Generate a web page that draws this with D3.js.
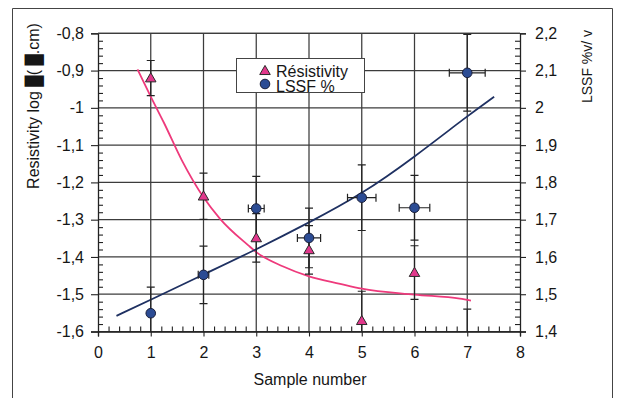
<!DOCTYPE html>
<html><head><meta charset="utf-8">
<script src="https://cdn.jsdelivr.net/npm/d3@7"></script>
<style>body{margin:0;background:#fff}svg{display:block;font-family:"Liberation Sans",Arial,sans-serif}</style>
</head><body><svg id="c" width="622" height="398"></svg>
<script>
// ---- data ----
const samples = [1, 2, 3, 4, 5, 6, 7];
const resistivity = [-0.92, -1.237, -1.349, -1.381, -1.571, -1.442, -1.64];
const resistivityErr = [0.047, 0.062, 0.065, 0.065, 0.079, 0.072, 0.10];
const lssf = [1.449, 1.552, 1.730, 1.651, 1.759, 1.732, 2.094];
const lssfErr = [0.07, 0.077, 0.086, 0.08, 0.088, 0.087, 0.103];
const lssfXErr = [0, 0.1, 0.15, 0.22, 0.27, 0.29, 0.34];
const resFitX = [0.75, 1.0, 1.25, 1.59, 2.0, 2.31, 2.85, 3.0, 3.5, 4.0, 4.59, 5.0, 6.0, 6.86, 7.07];
const resFitY = [-0.897, -0.97, -1.04, -1.141, -1.24, -1.297, -1.369, -1.387, -1.425, -1.452, -1.472, -1.485, -1.501, -1.512, -1.517];
const lssfFitX = [0.35, 1.0, 2.0, 3.0, 4.0, 5.0, 6.0, 7.0, 7.51];
const lssfFitY = [1.442, 1.485, 1.553, 1.620, 1.692, 1.768, 1.868, 1.978, 2.03];
const xTicks = [0, 1, 2, 3, 4, 5, 6, 7, 8];
const leftTicks = [-0.8, -0.9, -1.0, -1.1, -1.2, -1.3, -1.4, -1.5, -1.6];
const rightTicks = [2.2, 2.1, 2.0, 1.9, 1.8, 1.7, 1.6, 1.5, 1.4];
const legendLabels = ["Résistivity", "LSSF %"];
const xTitle = "Sample number";
const yLeftTitle = "Resistivity log \u2588( \u2588.cm)";
const yRightTitle = "LSSF %v/ v";

// ---- setup ----
const svg = d3.select("#c");
const L = 98, R = 520, T = 33.3, B = 331.5;
const x = d3.scaleLinear().domain([0, 8]).range([L, R]);
const yL = d3.scaleLinear().domain([-1.6, -0.8]).range([B, T]);
const yR = d3.scaleLinear().domain([1.4, 2.2]).range([B, T]);
const loc = d3.formatLocale({decimal: ",", thousands: " ", grouping: [3], currency: ["", ""], minus: "-"});
const fmt = loc.format("~g");
const pink = "#ee3a7c", navy = "#1f3162", grid = "#3c3c3c", ink = "#161616";

// frame
svg.append("path").attr("d", "M12.5,398 V8.5 H612.5 V398").attr("fill", "none").attr("stroke", "#444").attr("stroke-width", 1);

// gridlines
const g = svg.append("g");
g.selectAll(".h").data(leftTicks).join("line")
  .attr("x1", L).attr("x2", R).attr("y1", d => yL(d)).attr("y2", d => yL(d))
  .attr("stroke", grid).attr("stroke-width", 1.25);
g.selectAll(".v").data(xTicks.slice(1, -1)).join("line")
  .attr("x1", d => x(d)).attr("x2", d => x(d)).attr("y1", T).attr("y2", B)
  .attr("stroke", grid).attr("stroke-width", 1.25);

// minor ticks
const minor = (lo, hi, step, sub) => d3.range(Math.round((hi - lo) / (step / sub)) + 1).map(i => lo + i * step / sub).filter((v, i) => i % sub !== 0);
const axL = svg.append("g").attr("transform", `translate(${L},0)`);
axL.call(d3.axisLeft(yL).tickValues(minor(-1.6, -0.8, 0.1, 5)).tickSize(-5).tickFormat(""));
axL.call(g2 => g2.select(".domain").remove());
const axLm = svg.append("g").attr("transform", `translate(${L},0)`)
  .call(d3.axisLeft(yL).tickValues(leftTicks).tickSize(7).tickPadding(7).tickFormat(fmt));
const axR = svg.append("g").attr("transform", `translate(${R},0)`);
axR.call(d3.axisRight(yR).tickValues(minor(1.4, 2.2, 0.1, 5)).tickSize(-5).tickFormat(""));
axR.call(g2 => g2.select(".domain").remove());
const axRm = svg.append("g").attr("transform", `translate(${R},0)`)
  .call(d3.axisRight(yR).tickValues(rightTicks).tickSize(6).tickPadding(9).tickFormat(fmt));
const axB = svg.append("g").attr("transform", `translate(0,${B})`);
axB.call(d3.axisBottom(x).tickValues(minor(0, 8, 1, 5)).tickSize(-5).tickFormat(""));
axB.call(g2 => g2.select(".domain").remove());
const axBm = svg.append("g").attr("transform", `translate(0,${B})`)
  .call(d3.axisBottom(x).tickValues(xTicks).tickSize(5).tickPadding(10).tickFormat(fmt));
// top line
svg.append("line").attr("x1", L).attr("x2", R).attr("y1", T).attr("y2", T).attr("stroke", grid).attr("stroke-width", 1.25);

svg.selectAll(".tick line").attr("stroke", "#222").attr("stroke-width", 1.1);
svg.selectAll(".domain").attr("stroke", "#222").attr("stroke-width", 1.3);
svg.selectAll(".tick text").attr("font-size", 16).attr("fill", ink).attr("font-family", "Liberation Sans, Arial, sans-serif");
axBm.selectAll(".tick text").attr("dy", "0.71em");

// titles
svg.append("text").attr("x", (L + R) / 2 + 1).attr("y", 385).attr("text-anchor", "middle")
  .attr("font-size", 16).attr("fill", ink).text(xTitle);
svg.append("text").attr("transform", "translate(39,106) rotate(-90)").attr("text-anchor", "middle")
  .attr("font-size", 16).attr("fill", ink).text(yLeftTitle);
svg.append("text").attr("transform", "translate(592,66.5) rotate(-90)").attr("text-anchor", "middle")
  .attr("font-size", 14).attr("fill", ink).text(yRightTitle);

// plot clip
svg.append("clipPath").attr("id", "clip").append("rect").attr("x", L).attr("y", T).attr("width", R - L).attr("height", B - T);
const p = svg.append("g").attr("clip-path", "url(#clip)");

// fitted curves
p.append("path").datum(resFitX.map((v, i) => [v, resFitY[i]]))
  .attr("d", d3.line().x(d => x(d[0])).y(d => yL(d[1])).curve(d3.curveMonotoneX))
  .attr("fill", "none").attr("stroke", pink).attr("stroke-width", 1.8);
p.append("path").datum(lssfFitX.map((v, i) => [v, lssfFitY[i]]))
  .attr("d", d3.line().x(d => x(d[0])).y(d => yR(d[1])).curve(d3.curveBasis))
  .attr("fill", "none").attr("stroke", navy).attr("stroke-width", 1.8);

// error bars
const eb = p.append("g").attr("stroke", "#222").attr("stroke-width", 1.2);
const cap = 4;
samples.forEach((s, i) => {
  const cx = x(s);
  const r1 = yL(resistivity[i] + resistivityErr[i]), r2 = yL(resistivity[i] - resistivityErr[i]);
  eb.append("line").attr("x1", cx).attr("x2", cx).attr("y1", r1).attr("y2", r2);
  eb.append("line").attr("x1", cx - cap).attr("x2", cx + cap).attr("y1", r1).attr("y2", r1);
  eb.append("line").attr("x1", cx - cap).attr("x2", cx + cap).attr("y1", r2).attr("y2", r2);
  const l1 = yR(lssf[i] + lssfErr[i]), l2 = yR(lssf[i] - lssfErr[i]);
  eb.append("line").attr("x1", cx).attr("x2", cx).attr("y1", l1).attr("y2", l2);
  eb.append("line").attr("x1", cx - cap).attr("x2", cx + cap).attr("y1", l1).attr("y2", l1);
  eb.append("line").attr("x1", cx - cap).attr("x2", cx + cap).attr("y1", l2).attr("y2", l2);
  if (lssfXErr[i] > 0) {
    const cy = yR(lssf[i]), a = x(s - lssfXErr[i]), b = x(s + lssfXErr[i]);
    eb.append("line").attr("x1", a).attr("x2", b).attr("y1", cy).attr("y2", cy);
    eb.append("line").attr("x1", a).attr("x2", a).attr("y1", cy - cap).attr("y2", cy + cap);
    eb.append("line").attr("x1", b).attr("x2", b).attr("y1", cy - cap).attr("y2", cy + cap);
  }
});

// markers
const tri = d3.symbol().type(d3.symbolTriangle).size(48);
p.selectAll(".tri").data(samples.map((s, i) => [s, resistivity[i]])).join("path")
  .attr("transform", d => `translate(${x(d[0])},${yL(d[1]) + 0.8})`).attr("d", tri)
  .attr("fill", "#e2388c").attr("stroke", "#2a2a2a").attr("stroke-width", 1);
p.selectAll(".cir").data(samples.map((s, i) => [s, lssf[i]])).join("circle")
  .attr("cx", d => x(d[0])).attr("cy", d => yR(d[1])).attr("r", 4.8)
  .attr("fill", "#2c4c94").attr("stroke", "#1a1f3a").attr("stroke-width", 1);

// legend
const lg = svg.append("g");
lg.append("rect").attr("x", 236.5).attr("y", 58.5).attr("width", 128).attr("height", 34)
  .attr("fill", "#fff").attr("stroke", "#444").attr("stroke-width", 1);
lg.append("path").attr("transform", "translate(265,71.5)").attr("d", tri)
  .attr("fill", "#e2388c").attr("stroke", "#2a2a2a").attr("stroke-width", 1);
lg.append("circle").attr("cx", 265).attr("cy", 84).attr("r", 4.8)
  .attr("fill", "#2c4c94").attr("stroke", "#1a1f3a").attr("stroke-width", 1);
lg.selectAll(".lt").data(legendLabels).join("text")
  .attr("x", 276).attr("y", (d, i) => 76.5 + i * 15.5)
  .attr("font-size", 16).attr("fill", ink).text(d => d);
</script></body></html>
